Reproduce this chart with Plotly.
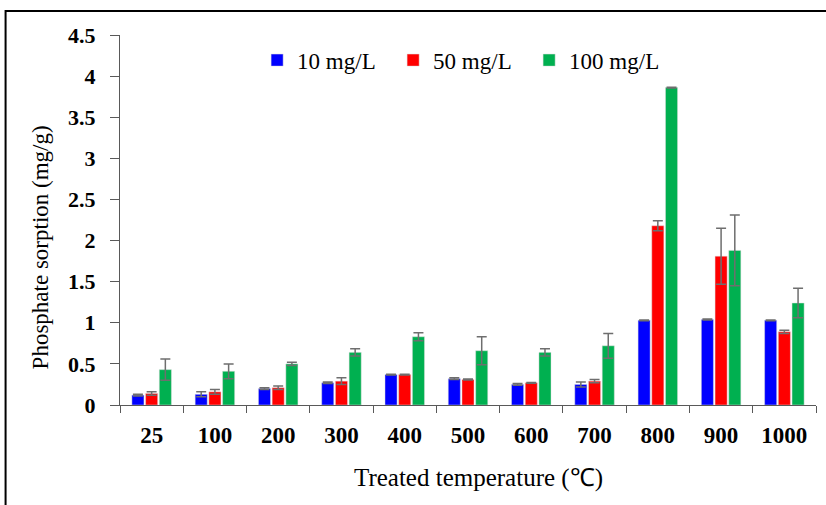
import plotly.graph_objects as go

categories = ["25", "100", "200", "300", "400", "500", "600", "700", "800", "900", "1000"]
series_names = ["10 mg/L", "50 mg/L", "100 mg/L"]
vals_10 = [0.12, 0.13, 0.20, 0.27, 0.37, 0.32, 0.25, 0.25, 1.03, 1.04, 1.03]
vals_50 = [0.14, 0.16, 0.21, 0.29, 0.37, 0.31, 0.27, 0.29, 2.18, 1.81, 0.89]
vals_100 = [0.43, 0.41, 0.50, 0.64, 0.83, 0.66, 0.64, 0.72, 3.86, 1.88, 1.24]
err_10 = [0.01, 0.03, 0.01, 0.01, 0.005, 0.01, 0.01, 0.03, 0.005, 0.005, 0.005]
err_50 = [0.02, 0.03, 0.02, 0.04, 0.005, 0.005, 0.005, 0.02, 0.06, 0.34, 0.02]
err_100 = [0.13, 0.09, 0.02, 0.045, 0.05, 0.17, 0.045, 0.15, 0.005, 0.43, 0.18]
colors = ["#0000FF", "#FF0000", "#00B050"]
y_ticks = [0, 0.5, 1, 1.5, 2, 2.5, 3, 3.5, 4, 4.5]
y_tick_text = ["0", "0.5", "1", "1.5", "2", "2.5", "3", "3.5", "4", "4.5"]

FONT = "Liberation Serif"
fig = go.Figure()
for name, vals, errs, col in zip(series_names, [vals_10, vals_50, vals_100],
                                 [err_10, err_50, err_100], colors):
    fig.add_trace(go.Bar(
        x=categories, y=vals, name=name,
        marker=dict(color=col, line=dict(color="rgba(220,220,220,0.8)", width=0.6)),
        error_y=dict(type="data", array=errs, visible=True, color="#6e6e6e",
                     thickness=1.5, width=5),
    ))

fig.update_layout(
    width=826, height=505,
    margin=dict(l=119.5, r=10, t=35, b=100),
    paper_bgcolor="white", plot_bgcolor="white",
    barmode="group", bargap=0.35, bargroupgap=0.12,
    font=dict(family=FONT, color="black"),
    showlegend=True,
    legend=dict(orientation="h", x=0.197, xanchor="left", y=0.932, yanchor="middle",
                font=dict(family=FONT, size=23, color="black"),
                bgcolor="rgba(0,0,0,0)", entrywidth=91, entrywidthmode="pixels",
                traceorder="normal"),
    xaxis=dict(
        type="category", showline=True, linecolor="#595959", linewidth=1.3,
        ticks="outside", tickson="boundaries", ticklen=7, tickcolor="#595959",
        tickwidth=1.3, showgrid=False, zeroline=False,
        tickfont=dict(family=FONT, size=23, color="black", weight="bold"),
        ticklabelstandoff=9,
    ),
    yaxis=dict(
        range=[0, 4.5], showline=True, linecolor="#595959", linewidth=1.3,
        ticks="outside", ticklen=9, tickcolor="#595959", tickwidth=1.3,
        tickvals=y_ticks, ticktext=y_tick_text,
        showgrid=False, zeroline=False,
        tickfont=dict(family=FONT, size=22, color="black", weight="bold"),
        ticklabelstandoff=10,
    ),
    annotations=[
        dict(text="Phosphate sorption (mg/g)", textangle=-90, xref="paper", yref="paper",
             x=-0.114, y=0.425, xanchor="center", yanchor="middle", showarrow=False,
             font=dict(family=FONT, size=23, color="black")),
        dict(text="Treated temperature (℃)", xref="paper", yref="paper",
             x=0.515, y=-0.197, xanchor="center", yanchor="middle", showarrow=False,
             font=dict(family=FONT, size=25, color="black")),
    ],
    shapes=[
        dict(type="rect", xref="paper", yref="paper", x0=-0.1644, x1=1.2,
             y0=-0.5, y1=1.065, line=dict(color="black", width=2),
             fillcolor="rgba(0,0,0,0)", layer="above"),
    ],
)

fig.write_html("out.html")
